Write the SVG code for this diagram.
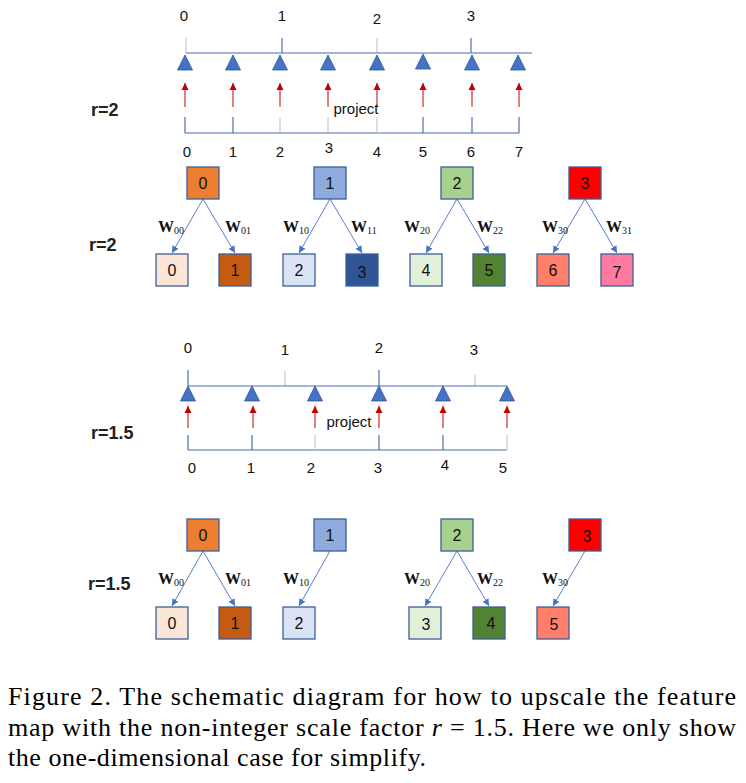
<svg xmlns="http://www.w3.org/2000/svg" width="746" height="783" viewBox="0 0 746 783">
<defs>
<marker id="ab" markerWidth="8" markerHeight="8" refX="7" refY="4" orient="auto" markerUnits="userSpaceOnUse"><path d="M0,0.5 L7,4 L0,7.5 Z" fill="#4472C4"/></marker>
<marker id="ar" markerWidth="8" markerHeight="8" refX="7" refY="4" orient="auto" markerUnits="userSpaceOnUse"><path d="M0,0.5 L7,4 L0,7.5 Z" fill="#C00000"/></marker>
</defs>
<style>
text{font-family:"Liberation Sans",Arial,sans-serif;fill:#111}
.num{font-size:15px;text-anchor:middle}
.r{font-size:18px;font-weight:bold;fill:#222}
.proj{font-size:15px;text-anchor:middle}
.axis{stroke:#4A6FB0;stroke-width:1.2;fill:none}
.gt{stroke:#C8C8C8;stroke-width:1.2}
.tri{fill:#4472C4;stroke:#2F5597;stroke-width:0.8}
.red{stroke:#C00000;stroke-width:1;marker-end:url(#ar)}
.box{stroke:#3B5F9A;stroke-width:1.3}
.bt{font-size:16px;text-anchor:middle}
.conn{stroke:#4472C4;stroke-width:0.9;fill:none;marker-end:url(#ab)}
text.w{font-family:"Liberation Serif","Times New Roman",serif;font-size:16px;font-weight:bold}
.sub{font-size:10px;font-weight:normal}
text.cap{font-family:"Liberation Serif","Times New Roman",serif;font-size:26px;fill:#000}
</style>

<!-- Section 1: r=2 axis -->
<g id="axis1">
<text class="num" x="184" y="21">0</text>
<text class="num" x="282" y="21">1</text>
<text class="num" x="377" y="24">2</text>
<text class="num" x="471" y="21">3</text>
<line class="gt" x1="186" y1="38" x2="186" y2="53"/>
<line class="axis" x1="282" y1="38" x2="282" y2="53"/>
<line class="gt" x1="377" y1="38" x2="377" y2="53"/>
<line class="axis" x1="471" y1="38" x2="471" y2="53"/>
<line class="axis" x1="186" y1="53" x2="532" y2="53"/>
<polygon class="tri" points="185,55 192.5,70 177.5,70"/>
<polygon class="tri" points="233,55 240.5,70 225.5,70"/>
<polygon class="tri" points="280,55 287.5,70 272.5,70"/>
<polygon class="tri" points="328,55 335.5,70 320.5,70"/>
<polygon class="tri" points="377,55 384.5,70 369.5,70"/>
<polygon class="tri" points="423,54 430.5,69 415.5,69"/>
<polygon class="tri" points="472,55 479.5,70 464.5,70"/>
<polygon class="tri" points="518,55 525.5,70 510.5,70"/>
<line class="red" x1="185" y1="107" x2="185" y2="83"/>
<line class="red" x1="233" y1="107" x2="233" y2="83"/>
<line class="red" x1="280" y1="107" x2="280" y2="83"/>
<line class="red" x1="328" y1="107" x2="328" y2="83"/>
<line class="red" x1="377" y1="107" x2="377" y2="83"/>
<line class="red" x1="423" y1="107" x2="423" y2="83"/>
<line class="red" x1="472" y1="107" x2="472" y2="83"/>
<line class="red" x1="519" y1="107" x2="519" y2="83"/>
<text class="proj" x="356" y="114">project</text>
<line class="axis" x1="185" y1="133" x2="519" y2="133"/>
<line class="axis" x1="185" y1="117" x2="185" y2="133"/>
<line class="axis" x1="233" y1="117" x2="233" y2="133"/>
<line class="gt" x1="280" y1="117" x2="280" y2="133"/>
<line class="gt" x1="328" y1="117" x2="328" y2="133"/>
<line class="gt" x1="377" y1="117" x2="377" y2="133"/>
<line class="axis" x1="423" y1="117" x2="423" y2="133"/>
<line class="axis" x1="472" y1="117" x2="472" y2="133"/>
<line class="axis" x1="519" y1="117" x2="519" y2="133"/>
<text class="num" x="187" y="157">0</text>
<text class="num" x="233" y="157">1</text>
<text class="num" x="280" y="157">2</text>
<text class="num" x="329" y="153">3</text>
<text class="num" x="377" y="157">4</text>
<text class="num" x="423" y="157">5</text>
<text class="num" x="471" y="157">6</text>
<text class="num" x="519" y="157">7</text>
</g>

<text class="r" x="91" y="116">r=2</text>
<text class="r" x="89" y="251">r=2</text>
<text class="r" x="91" y="439">r=1.5</text>
<text class="r" x="88" y="590">r=1.5</text>

<!-- Section 2 connectors -->
<g id="connectors2">
<line class="conn" x1="203" y1="199" x2="172" y2="253"/>
<line class="conn" x1="203" y1="199" x2="235" y2="253"/>
<line class="conn" x1="330" y1="199" x2="299" y2="253"/>
<line class="conn" x1="330" y1="199" x2="362" y2="253"/>
<line class="conn" x1="457" y1="199" x2="426" y2="253"/>
<line class="conn" x1="457" y1="199" x2="489" y2="253"/>
<line class="conn" x1="585" y1="199" x2="553" y2="253"/>
<line class="conn" x1="585" y1="199" x2="617" y2="253"/>
<text class="w" x="158" y="232">W<tspan class="sub" dy="2">00</tspan></text>
<text class="w" x="225" y="232">W<tspan class="sub" dy="2">01</tspan></text>
<text class="w" x="283" y="232">W<tspan class="sub" dy="2">10</tspan></text>
<text class="w" x="351" y="232">W<tspan class="sub" dy="2">11</tspan></text>
<text class="w" x="404" y="232">W<tspan class="sub" dy="2">20</tspan></text>
<text class="w" x="477" y="232">W<tspan class="sub" dy="2">22</tspan></text>
<text class="w" x="542" y="232">W<tspan class="sub" dy="2">30</tspan></text>
<text class="w" x="606" y="232">W<tspan class="sub" dy="2">31</tspan></text>
</g>
<g id="p2_0"><rect class="box" x="187" y="167" width="32" height="32" fill="#ED7D31"/><text class="bt" x="203" y="189">0</text></g>
<g id="p2_1"><rect class="box" x="314" y="167" width="32" height="32" fill="#8FAADC"/><text class="bt" x="330" y="189">1</text></g>
<g id="p2_2"><rect class="box" x="441" y="167" width="32" height="32" fill="#A9D18E"/><text class="bt" x="457" y="189">2</text></g>
<g id="p2_3"><rect class="box" x="569" y="167" width="32" height="32" fill="#FF0000"/><text class="bt" x="585" y="189">3</text></g>
<g id="c2_0"><rect class="box" x="156" y="254" width="32" height="32" fill="#FBE5D6"/><text class="bt" x="172" y="276">0</text></g>
<g id="c2_1"><rect class="box" x="219" y="254" width="32" height="32" fill="#C55A11"/><text class="bt" x="235" y="276">1</text></g>
<g id="c2_2"><rect class="box" x="283" y="254" width="32" height="32" fill="#DAE3F3"/><text class="bt" x="299" y="276">2</text></g>
<g id="c2_3"><rect class="box" x="346" y="254" width="32" height="32" fill="#2F5597"/><text class="bt" x="362" y="278">3</text></g>
<g id="c2_4"><rect class="box" x="410" y="254" width="32" height="32" fill="#E2F0D9"/><text class="bt" x="426" y="276">4</text></g>
<g id="c2_5"><rect class="box" x="473" y="254" width="32" height="32" fill="#548235"/><text class="bt" x="489" y="276">5</text></g>
<g id="c2_6"><rect class="box" x="537" y="254" width="32" height="32" fill="#FF7F6B"/><text class="bt" x="553" y="276">6</text></g>
<g id="c2_7"><rect class="box" x="601" y="254" width="32" height="32" fill="#FF7BA0"/><text class="bt" x="617" y="278">7</text></g>

<!-- Section 3: r=1.5 axis -->
<g id="axis2">
<text class="num" x="188" y="353">0</text>
<text class="num" x="285" y="355">1</text>
<text class="num" x="379" y="353">2</text>
<text class="num" x="474" y="355">3</text>
<line class="axis" x1="188" y1="370" x2="188" y2="386"/>
<line class="gt" x1="285" y1="371" x2="285" y2="386"/>
<line class="axis" x1="379" y1="370" x2="379" y2="386"/>
<line class="gt" x1="475" y1="375" x2="475" y2="386"/>
<line class="axis" x1="188" y1="386" x2="507" y2="386"/>
<polygon class="tri" points="188,386 195.5,401 180.5,401"/>
<polygon class="tri" points="252,386 259.5,401 244.5,401"/>
<polygon class="tri" points="315,386 322.5,401 307.5,401"/>
<polygon class="tri" points="379,386 386.5,401 371.5,401"/>
<polygon class="tri" points="443,386 450.5,401 435.5,401"/>
<polygon class="tri" points="507,386 514.5,401 499.5,401"/>
<line class="red" x1="188" y1="428" x2="188" y2="406"/>
<line class="red" x1="253" y1="428" x2="253" y2="406"/>
<line class="red" x1="315" y1="428" x2="315" y2="406"/>
<line class="red" x1="379" y1="428" x2="379" y2="406"/>
<line class="red" x1="443" y1="428" x2="443" y2="406"/>
<line class="red" x1="507" y1="428" x2="507" y2="406"/>
<text class="proj" x="349" y="427">project</text>
<line class="axis" x1="188" y1="450" x2="507" y2="450"/>
<line class="axis" x1="188" y1="435" x2="188" y2="450"/>
<line class="axis" x1="252" y1="435" x2="252" y2="450"/>
<line class="gt" x1="315" y1="435" x2="315" y2="450"/>
<line class="axis" x1="379" y1="435" x2="379" y2="450"/>
<line class="axis" x1="443" y1="435" x2="443" y2="450"/>
<line class="gt" x1="507" y1="435" x2="507" y2="450"/>
<text class="num" x="192" y="473">0</text>
<text class="num" x="251" y="473">1</text>
<text class="num" x="311" y="473">2</text>
<text class="num" x="378" y="473">3</text>
<text class="num" x="445" y="470">4</text>
<text class="num" x="503" y="473">5</text>
</g>

<!-- Section 4 connectors -->
<g id="connectors4">
<line class="conn" x1="203" y1="551" x2="172" y2="606"/>
<line class="conn" x1="203" y1="551" x2="235" y2="606"/>
<line class="conn" x1="330" y1="551" x2="299" y2="606"/>
<line class="conn" x1="457" y1="551" x2="425" y2="606"/>
<line class="conn" x1="457" y1="551" x2="489" y2="606"/>
<line class="conn" x1="585" y1="551" x2="553" y2="606"/>
<text class="w" x="158" y="584">W<tspan class="sub" dy="2">00</tspan></text>
<text class="w" x="225" y="584">W<tspan class="sub" dy="2">01</tspan></text>
<text class="w" x="283" y="584">W<tspan class="sub" dy="2">10</tspan></text>
<text class="w" x="404" y="584">W<tspan class="sub" dy="2">20</tspan></text>
<text class="w" x="477" y="584">W<tspan class="sub" dy="2">22</tspan></text>
<text class="w" x="542" y="584">W<tspan class="sub" dy="2">30</tspan></text>
</g>
<g id="p4_0"><rect class="box" x="187" y="519" width="32" height="32" fill="#ED7D31"/><text class="bt" x="203" y="541">0</text></g>
<g id="p4_1"><rect class="box" x="314" y="519" width="32" height="32" fill="#8FAADC"/><text class="bt" x="330" y="541">1</text></g>
<g id="p4_2"><rect class="box" x="441" y="519" width="32" height="32" fill="#A9D18E"/><text class="bt" x="457" y="541">2</text></g>
<g id="p4_3"><rect class="box" x="569" y="519" width="32" height="32" fill="#FF0000"/><text class="bt" x="587" y="542">3</text></g>
<g id="c4_0"><rect class="box" x="156" y="607" width="32" height="32" fill="#FBE5D6"/><text class="bt" x="172" y="629">0</text></g>
<g id="c4_1"><rect class="box" x="219" y="607" width="32" height="32" fill="#C55A11"/><text class="bt" x="235" y="629">1</text></g>
<g id="c4_2"><rect class="box" x="283" y="607" width="32" height="32" fill="#DAE3F3"/><text class="bt" x="299" y="629">2</text></g>
<g id="c4_3"><rect class="box" x="409" y="607" width="32" height="32" fill="#E2F0D9"/><text class="bt" x="426" y="630">3</text></g>
<g id="c4_4"><rect class="box" x="473" y="607" width="32" height="32" fill="#548235"/><text class="bt" x="491" y="629">4</text></g>
<g id="c4_5"><rect class="box" x="537" y="607" width="32" height="32" fill="#FF7F6B"/><text class="bt" x="554" y="630">5</text></g>

<!-- Caption -->
<g id="caption">
<text class="cap" x="8" y="705" textLength="728" lengthAdjust="spacing">Figure 2. The schematic diagram for how to upscale the feature</text>
<text class="cap" x="8" y="736" textLength="728" lengthAdjust="spacing">map with the non-integer scale factor <tspan font-style="italic">r</tspan> = 1.5. Here we only show</text>
<text class="cap" x="8" y="766" textLength="418" lengthAdjust="spacing">the one-dimensional case for simplify.</text>
</g>
</svg>
